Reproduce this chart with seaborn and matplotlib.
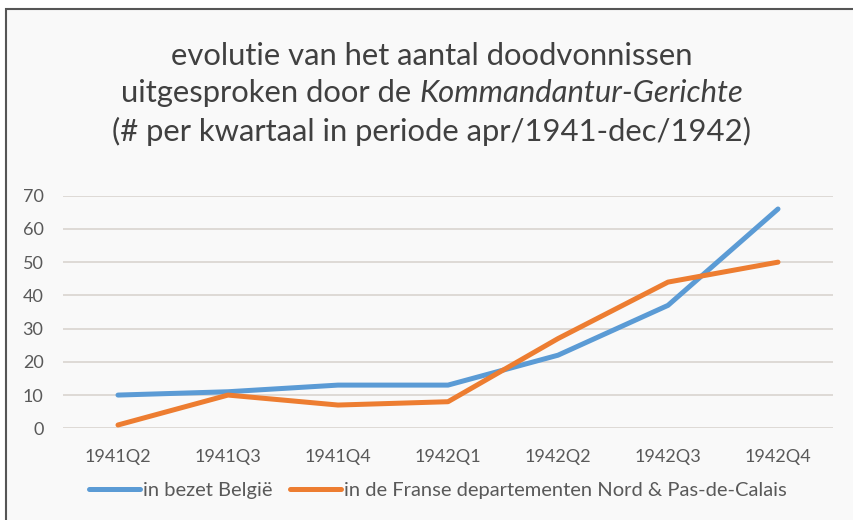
import matplotlib
matplotlib.use("Agg")
import matplotlib.pyplot as plt
import matplotlib.patches as mpatches
import seaborn as sns
import pandas as pd

quarters = ["1941Q2", "1941Q3", "1941Q4", "1942Q1", "1942Q2", "1942Q3", "1942Q4"]
belgie = [10, 11, 13, 13, 22, 37, 66]
frankrijk = [1, 10, 7, 8, 27, 44, 50]
series_names = ["in bezet België", "in de Franse departementen Nord & Pas-de-Calais"]
yticks = [0, 10, 20, 30, 40, 50, 60, 70]

sns.set_theme(style="white")
plt.rcParams["font.family"] = ["Lato", "DejaVu Sans"]

df = pd.DataFrame({
    "kwartaal": quarters * 2,
    "aantal": belgie + frankrijk,
    "reeks": [series_names[0]] * len(quarters) + [series_names[1]] * len(quarters),
})

BG = "#f9f9f9"
TXT = "#595959"
fig = plt.figure(figsize=(8.54, 5.2), dpi=100, facecolor="white")
fig.patches.append(mpatches.Rectangle((6 / 854, -0.1), 1.2, (1 - 9 / 520) + 0.1,
                                      transform=fig.transFigure, facecolor=BG,
                                      edgecolor="#555555", linewidth=1.5, zorder=-10))

ax = fig.add_axes([63 / 854, 1 - 428.3 / 520, (833 - 63) / 854, (428.3 - 195.7) / 520])
ax.set_facecolor(BG)
sns.lineplot(data=df, x="kwartaal", y="aantal", hue="reeks",
             palette=["#5B9BD5", "#ED7D31"], linewidth=3.6, ax=ax,
             legend=False, sort=False)
for ln in ax.lines:
    ln.set_solid_capstyle("round")
    ln.set_solid_joinstyle("round")

ax.set_ylim(0, 70)
ax.set_xlim(-0.5, len(quarters) - 0.5)
ax.set_yticks(yticks)
ax.grid(axis="y", color="#d9d4d0", linewidth=1.2)
ax.set_axisbelow(True)
for s in ax.spines.values():
    s.set_visible(False)
ax.set_xlabel("")
ax.set_ylabel("")
ax.tick_params(axis="both", length=0, labelsize=13, labelcolor=TXT)
ax.tick_params(axis="x", pad=15)
ax.tick_params(axis="y", pad=14)

# legend
handles = [plt.Line2D([], [], color="#5B9BD5", linewidth=3.6),
           plt.Line2D([], [], color="#ED7D31", linewidth=3.6)]
fig.legend(handles, series_names, loc="center", bbox_to_anchor=(438 / 854, 1 - 490 / 520),
           ncol=2, frameon=False, fontsize=14.5, labelcolor=TXT, handlelength=2.5,
           handletextpad=0.15, columnspacing=0.9)

# title
TC = "#404040"
fs = 22.3
cx = 432 / 854
fig.text(cx, 1 - 56 / 520, "evolutie van het aantal doodvonnissen", ha="center", va="center",
         fontsize=fs, color=TC)
fig.text(cx, 1 - 131 / 520, "(# per kwartaal in periode apr/1941-dec/1942)", ha="center",
         va="center", fontsize=fs, color=TC)
renderer = fig.canvas.get_renderer()
t1 = fig.text(0, 1 - 93 / 520, "uitgesproken door de ", ha="left", va="center",
              fontsize=fs, color=TC)
t2 = fig.text(0, 1 - 93 / 520, "Kommandantur-Gerichte", ha="left", va="center",
              fontsize=fs, color=TC, style="italic")
w1 = t1.get_window_extent(renderer).width / fig.bbox.width
w2 = t2.get_window_extent(renderer).width / fig.bbox.width
x0 = cx - (w1 + w2) / 2
t1.set_x(x0)
t2.set_x(x0 + w1)

fig.savefig("out.png", dpi=100, facecolor="white")
